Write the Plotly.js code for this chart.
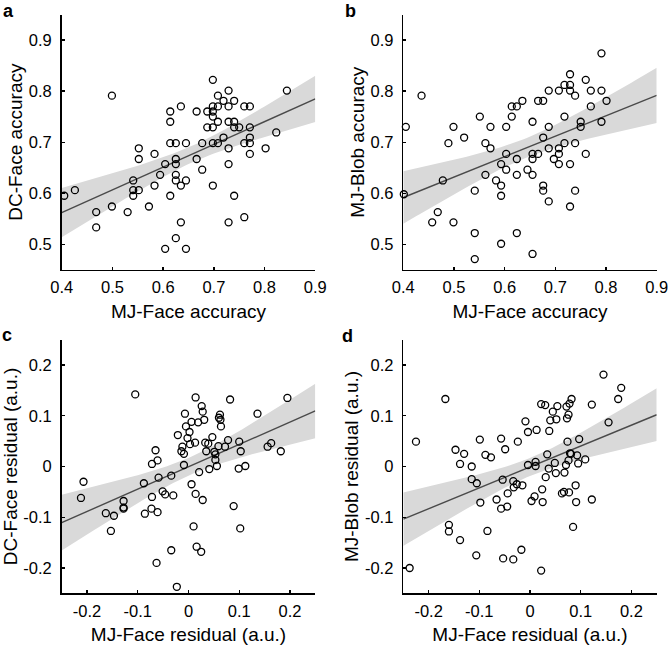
<!DOCTYPE html>
<html>
<head>
<meta charset="utf-8">
<script src="https://cdn.plot.ly/plotly-3.0.1.min.js"></script>
<style>html,body{margin:0;padding:0;background:#fff;}#chart{width:669px;height:645px;}</style>
</head>
<body>
<div id="chart"></div>
<script>
// ---------- Data ----------
const panelLetters = ["a", "b", "c", "d"];
const xTitles = ["MJ-Face accuracy", "MJ-Face accuracy", "MJ-Face residual (a.u.)", "MJ-Face residual (a.u.)"];
const yTitles = ["DC-Face accuracy", "MJ-Blob accuracy", "DC-Face residual (a.u.)", "MJ-Blob residual (a.u.)"];

const accTickVals = [0.4, 0.5, 0.6, 0.7, 0.8, 0.9];
const accTickText = ["0.4", "0.5", "0.6", "0.7", "0.8", "0.9"];
const accYTickVals = [0.5, 0.6, 0.7, 0.8, 0.9];
const accYTickText = ["0.5", "0.6", "0.7", "0.8", "0.9"];
const resTickVals = [-0.2, -0.1, 0, 0.1, 0.2];
const resTickText = ["-0.2", "-0.1", "0", "0.1", "0.2"];

// Panel a: MJ-Face accuracy vs DC-Face accuracy
const aX = [0.405,0.426,0.499,0.499,0.468,0.468,0.530,0.541,0.541,0.541,0.552,0.552,0.552,0.572,0.583,0.583,0.594,0.604,0.604,0.614,0.614,0.614,0.614,0.625,0.625,0.625,0.625,0.625,0.625,0.635,0.635,0.635,0.645,0.645,0.645,0.666,0.666,0.677,0.677,0.687,0.687,0.698,0.698,0.698,0.698,0.698,0.698,0.698,0.708,0.708,0.708,0.708,0.719,0.719,0.729,0.729,0.729,0.729,0.729,0.729,0.740,0.740,0.740,0.740,0.750,0.760,0.760,0.760,0.771,0.771,0.771,0.771,0.771,0.802,0.823,0.844];
const aY = [0.595,0.606,0.791,0.574,0.563,0.533,0.563,0.625,0.606,0.595,0.688,0.667,0.606,0.574,0.677,0.615,0.636,0.657,0.491,0.760,0.740,0.698,0.595,0.698,0.667,0.657,0.636,0.625,0.512,0.770,0.615,0.543,0.698,0.625,0.491,0.760,0.667,0.698,0.646,0.760,0.729,0.822,0.770,0.760,0.750,0.729,0.698,0.615,0.791,0.770,0.740,0.698,0.781,0.709,0.801,0.770,0.740,0.688,0.657,0.543,0.781,0.740,0.729,0.595,0.729,0.770,0.698,0.553,0.770,0.729,0.709,0.698,0.677,0.688,0.719,0.801];

// Panel b: MJ-Face accuracy vs MJ-Blob accuracy
const bX = [0.401,0.405,0.436,0.457,0.468,0.478,0.489,0.499,0.499,0.520,0.541,0.541,0.541,0.551,0.562,0.562,0.572,0.572,0.583,0.593,0.593,0.593,0.593,0.603,0.603,0.603,0.614,0.614,0.624,0.624,0.624,0.624,0.635,0.645,0.655,0.655,0.655,0.655,0.655,0.666,0.666,0.676,0.676,0.676,0.676,0.687,0.687,0.687,0.687,0.697,0.707,0.707,0.707,0.707,0.718,0.718,0.718,0.729,0.729,0.729,0.729,0.729,0.739,0.739,0.739,0.750,0.750,0.760,0.760,0.770,0.770,0.791,0.791,0.791,0.801];
const bY = [0.598,0.730,0.791,0.543,0.563,0.625,0.698,0.730,0.543,0.709,0.605,0.522,0.471,0.750,0.698,0.636,0.730,0.688,0.625,0.657,0.615,0.595,0.501,0.730,0.677,0.646,0.770,0.750,0.770,0.667,0.636,0.522,0.781,0.646,0.740,0.677,0.667,0.636,0.481,0.781,0.677,0.781,0.709,0.615,0.605,0.801,0.730,0.688,0.584,0.667,0.801,0.688,0.677,0.657,0.812,0.750,0.698,0.833,0.812,0.801,0.657,0.574,0.791,0.698,0.605,0.740,0.730,0.822,0.677,0.801,0.770,0.874,0.801,0.740,0.781];

// Panel c: MJ-Face residual vs DC-Face residual
const cX = [-0.212,-0.207,-0.163,-0.153,-0.147,-0.128,-0.128,-0.128,-0.105,-0.088,-0.086,-0.072,-0.073,-0.072,-0.065,-0.061,-0.061,-0.059,-0.063,-0.051,-0.046,-0.034,-0.030,-0.034,-0.023,-0.021,-0.014,-0.012,-0.009,-0.009,-0.007,-0.005,-0.002,0.002,0.003,0.006,0.006,0.010,0.013,0.014,0.014,0.016,0.019,0.021,0.025,0.026,0.028,0.028,0.031,0.033,0.035,0.039,0.041,0.047,0.051,0.053,0.053,0.056,0.059,0.060,0.062,0.063,0.064,0.072,0.078,0.082,0.089,0.099,0.100,0.102,0.103,0.112,0.136,0.156,0.163,0.182,0.195];
const cY = [-0.062,-0.030,-0.092,-0.127,-0.097,-0.068,-0.081,-0.083,0.142,-0.033,-0.093,-0.060,-0.083,0.005,0.032,0.012,-0.090,-0.022,-0.190,-0.049,-0.055,-0.018,-0.057,-0.165,-0.237,0.062,0.030,0.039,0.025,0.003,0.104,0.079,0.056,0.068,0.044,0.088,-0.035,-0.118,0.047,0.136,-0.054,-0.158,0.087,-0.011,-0.168,0.119,0.108,-0.066,0.092,0.047,0.030,0.045,-0.005,0.058,0.029,0.024,0.013,0.001,0.040,0.096,0.102,0.092,0.079,0.039,0.052,0.132,-0.078,-0.004,0.049,-0.122,0.030,0.001,0.104,0.039,0.046,0.030,0.135];

// Panel d: MJ-Face residual vs MJ-Blob residual
const dX = [-0.2375,-0.225,-0.167,-0.160,-0.160,-0.147,-0.138,-0.138,-0.130,-0.115,-0.115,-0.106,-0.105,-0.099,-0.098,-0.088,-0.084,-0.077,-0.066,-0.057,-0.057,-0.054,-0.053,-0.049,-0.045,-0.044,-0.033,-0.032,-0.033,-0.026,-0.024,-0.017,-0.015,-0.009,-0.004,-0.004,0.003,0.009,0.011,0.011,0.013,0.022,0.024,0.025,0.022,0.030,0.031,0.034,0.037,0.038,0.040,0.045,0.049,0.051,0.052,0.054,0.063,0.067,0.068,0.071,0.072,0.073,0.074,0.076,0.077,0.076,0.078,0.079,0.081,0.082,0.085,0.090,0.091,0.093,0.095,0.097,0.109,0.122,0.122,0.145,0.155,0.174,0.180];
const dY = [-0.200,0.049,0.133,-0.115,-0.128,0.033,0.005,-0.145,0.025,0.000,-0.025,-0.175,-0.033,0.053,-0.071,0.023,-0.127,0.018,-0.065,0.055,-0.083,-0.026,-0.181,0.034,-0.079,-0.053,-0.029,-0.041,-0.183,-0.035,0.049,-0.164,-0.037,0.089,0.068,0.003,-0.068,-0.059,0.009,0.001,0.072,0.123,-0.045,-0.070,-0.205,0.121,-0.021,0.024,-0.004,0.070,0.091,0.108,0.007,-0.013,0.093,0.119,-0.053,-0.050,-0.012,0.003,0.118,0.095,0.049,0.102,-0.051,0.012,0.124,0.026,0.025,0.133,-0.119,-0.037,-0.070,0.022,0.006,0.054,0.014,0.122,-0.065,0.181,0.087,0.133,0.155];

// ---------- Linear fit with 95% confidence band ----------
function fit(x, y, lo, hi) {
  const n = x.length;
  const mx = x.reduce((s, v) => s + v, 0) / n;
  const my = y.reduce((s, v) => s + v, 0) / n;
  let sxx = 0, sxy = 0;
  for (let i = 0; i < n; i++) { sxx += (x[i] - mx) ** 2; sxy += (x[i] - mx) * (y[i] - my); }
  const b = sxy / sxx, a = my - b * mx;
  let sse = 0;
  for (let i = 0; i < n; i++) sse += (y[i] - a - b * x[i]) ** 2;
  const s = Math.sqrt(sse / (n - 2));
  const t = 1.993;
  const xs = [], yf = [], up = [], dn = [];
  const N = 80;
  for (let k = 0; k <= N; k++) {
    const xv = lo + (hi - lo) * k / N;
    const yv = a + b * xv;
    const se = s * Math.sqrt(1 / n + (xv - mx) ** 2 / sxx);
    xs.push(xv); yf.push(yv); up.push(yv + t * se); dn.push(yv - t * se);
  }
  return { xs, yf, up, dn };
}

const FONT = "Liberation Sans, Arial, Helvetica, sans-serif";
const panels = [
  { x: aX, y: aY, xr: [0.4, 0.9], yr: [0.45, 0.95], xt: [accTickVals, accTickText], yt: [accYTickVals, accYTickText] },
  { x: bX, y: bY, xr: [0.4, 0.9], yr: [0.45, 0.95], xt: [accTickVals, accTickText], yt: [accYTickVals, accYTickText] },
  { x: cX, y: cY, xr: [-0.25, 0.25], yr: [-0.25, 0.25], xt: [resTickVals, resTickText], yt: [resTickVals, resTickText] },
  { x: dX, y: dY, xr: [-0.25, 0.25], yr: [-0.25, 0.25], xt: [resTickVals, resTickText], yt: [resTickVals, resTickText] }
];

const W = 669, H = 645;
const xDomains = [[61.7 / W, 315.3 / W], [403.3 / W, 656.7 / W]];
const yDomains = [[1 - 269.8 / H, 1 - 14.5 / H], [1 - 593.4 / H, 1 - 339.6 / H]];

const traces = [];
const layout = {
  width: W, height: H,
  margin: { l: 0, r: 0, t: 0, b: 0 },
  paper_bgcolor: "#fff", plot_bgcolor: "#fff",
  showlegend: false,
  font: { family: FONT, color: "#000" },
  annotations: []
};

const letterPos = [[8, 11], [350, 11], [7, 335], [347, 336]];

panels.forEach((p, i) => {
  const ax = i === 0 ? "" : String(i + 1);
  const xa = "x" + ax, ya = "y" + ax;
  const f = fit(p.x, p.y, p.xr[0], p.xr[1]);
  traces.push({
    x: f.xs.concat(f.xs.slice().reverse()),
    y: f.up.concat(f.dn.slice().reverse()),
    xaxis: xa, yaxis: ya, type: "scatter", mode: "lines",
    fill: "toself", fillcolor: "#d9d9d9", line: { width: 0 }, hoverinfo: "skip"
  });
  traces.push({
    x: f.xs, y: f.yf, xaxis: xa, yaxis: ya, type: "scatter", mode: "lines",
    line: { color: "#4a4a4a", width: 1.4 }
  });
  traces.push({
    x: p.x, y: p.y, xaxis: xa, yaxis: ya, type: "scatter", mode: "markers",
    marker: { symbol: "circle-open", size: 7, color: "#000", line: { width: 1.3, color: "#000" } },
    cliponaxis: false
  });
  const col = i % 2, row = Math.floor(i / 2);
  layout["xaxis" + ax] = {
    domain: xDomains[col], range: p.xr, anchor: ya,
    tickmode: "array", tickvals: p.xt[0], ticktext: p.xt[1],
    ticks: "inside", ticklen: 3, tickwidth: 1.3, tickcolor: "#000",
    showline: true, linecolor: "#000", linewidth: 1.6,
    showgrid: false, zeroline: false, fixedrange: true,
    tickfont: { size: 16.5, family: FONT, color: "#000" },
    ticklabelstandoff: 2,
    title: { text: xTitles[i], font: { size: 19, family: FONT, color: "#000" }, standoff: 9 }
  };
  layout["yaxis" + ax] = {
    domain: yDomains[row], range: p.yr, anchor: xa,
    tickmode: "array", tickvals: p.yt[0], ticktext: p.yt[1],
    ticks: "inside", ticklen: 3, tickwidth: 1.3, tickcolor: "#000",
    showline: true, linecolor: "#000", linewidth: 1.6,
    showgrid: false, zeroline: false, fixedrange: true,
    tickfont: { size: 16.5, family: FONT, color: "#000" },
    ticklabelstandoff: 5,
    title: { text: yTitles[i], font: { size: 19, family: FONT, color: "#000" }, standoff: 1 }
  };
  layout.annotations.push({
    text: "<b>" + panelLetters[i] + "</b>", xref: "paper", yref: "paper",
    x: letterPos[i][0] / W, y: 1 - letterPos[i][1] / H, xanchor: "center", yanchor: "middle",
    showarrow: false, font: { size: 18, family: FONT, color: "#000" }
  });
});

Plotly.newPlot("chart", traces, layout, { staticPlot: true, displayModeBar: false });
</script>
</body>
</html>
